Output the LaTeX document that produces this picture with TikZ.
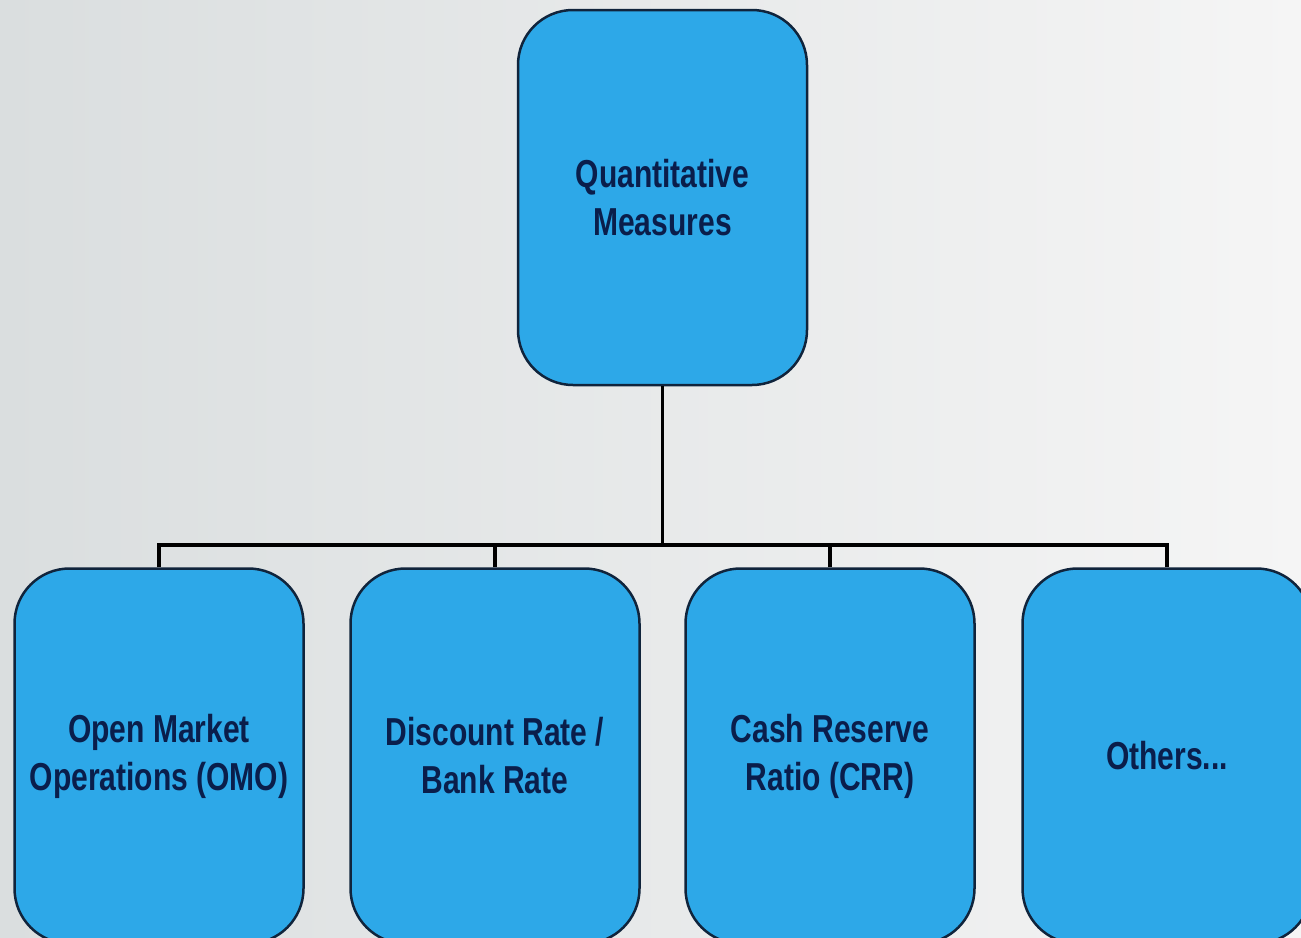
\documentclass[tikz,border=0pt]{standalone}
\usepackage{fontspec}
\setmainfont{Liberation Sans}[FakeStretch=0.77]
\definecolor{boxfill}{RGB}{45,168,232}
\definecolor{boxedge}{RGB}{16,36,60}
\definecolor{boxtext}{RGB}{10,30,75}
\definecolor{bgleft}{RGB}{218,222,223}
\definecolor{bgmid}{RGB}{236,237,237}
\definecolor{bgright}{RGB}{245,245,245}
\begin{document}
\begin{tikzpicture}[x=1pt,y=-1pt,
  measure/.style={draw=boxedge, line width=2.5pt, fill=boxfill,
    rounded corners=55pt, minimum width=289pt, minimum height=375pt,
    inner sep=0pt, align=center, text=boxtext,
    font=\fontsize{39}{48}\selectfont\bfseries},
  link/.style={draw=black, line width=3.5pt}]
  % canvas and background
  \useasboundingbox (0,0) rectangle (1301,937);
  \clip (0,0) rectangle (1301,937);
  \shade[left color=bgleft, middle color=bgmid, right color=bgright]
    (0,0) rectangle (1301,937);
  % branch point of the tree
  \coordinate (hub) at (662.5,545);
  % boxes
  \node[measure] (top) at (662.5,197.5) {Quantitative\\Measures};
  \node[measure] (omo) at (159,756) {Open Market\\Operations (OMO)};
  \node[measure] (disc) at (495,756) {Discount Rate /\\Bank Rate};
  \node[measure] (crr) at (830,756) {Cash Reserve\\Ratio (CRR)};
  \node[measure] (other) at (1167,756) {Others...};
  % connectors
  \draw[link] (top.south) -- (hub);
  \draw[link] (omo.north) |- (hub);
  \draw[link] (disc.north) |- (hub);
  \draw[link] (crr.north) |- (hub);
  \draw[link] (other.north) |- (hub);
\end{tikzpicture}
\end{document}
